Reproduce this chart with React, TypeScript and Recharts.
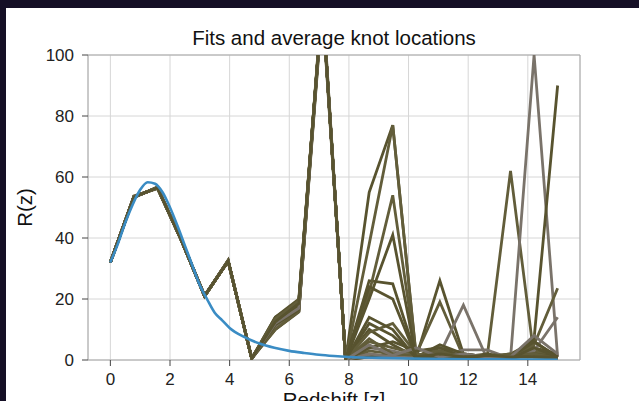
import { LineChart, Line, XAxis, YAxis, CartesianGrid, ReferenceArea } from "recharts";

// knot positions (redshift) shared by all the fitted lines
const knotZ = [0, 0.79, 1.58, 2.37, 3.16, 3.95, 4.74, 5.53, 6.32, 7.11, 7.89, 8.68, 9.47, 10.26, 11.05, 11.84, 12.63, 13.42, 14.21, 15];

// fitted R(z) at each knot, one array per fit
const fit01 = [32, 53.5, 56.5, 39.5, 21, 32.5, 0.5, 14, 20, 118, 0, 55, 77, 1, 2, 1, 0.5, 1, 3, 1];
const fit02 = [32, 53.2, 56.8, 39.5, 21.2, 32.2, 0.8, 12, 17, 120, 0, 38, 77, 0.5, 1, 0.5, 1, 0.5, 2, 1];
const fit03 = [32, 53.5, 56.5, 39.8, 21, 32.5, 0.5, 10, 15.7, 116, 0, 26, 25, 1, 3, 1, 1, 1, 4, 2];
const fit04 = [32, 53.8, 56.2, 39.5, 21, 32.8, 0.5, 13, 18, 119, 0, 22, 54, 1, 4, 2, 1, 1, 4, 1];
const fit05 = [32, 53.5, 56.5, 39.5, 20.8, 32.5, 0.3, 11, 16, 117, 0, 20, 41, 0.5, 2, 1, 0.5, 1, 2, 1];
const fit06 = [32, 53.4, 56.6, 39.6, 21, 32.4, 0.5, 12.5, 19, 118, 0, 10, 5, 1, 26, 2, 1, 2, 6, 1];
const fit07 = [32, 53.6, 56.4, 39.4, 21.1, 32.6, 0.6, 11, 17.5, 118, 0, 6, 4, 2, 19, 1, 1, 0.5, 3, 0.5];
const fit08 = [32, 53.5, 56.5, 39.5, 21, 32.5, 0.5, 13, 18, 118, 0, 4, 3, 1, 2, 18, 0.5, 1, 1, 1];
const fit09 = [32, 53.5, 56.5, 39.5, 21, 32.5, 0.5, 12, 17, 118, 0, 2, 1, 0.5, 1, 1, 0.5, 62, 1, 0.5];
const fit10 = [32, 53.5, 56.5, 39.5, 21, 32.5, 0.5, 12, 17, 118, 0, 1, 1, 1, 1, 3.3, 3.3, 0.5, 100, 1];
const fit11 = [32, 53.5, 56.5, 39.5, 21, 32.5, 0.5, 13, 19, 118, 0, 1, 2, 1, 2, 1, 1, 1, 7, 90];
const fit12 = [32, 53.5, 56.5, 39.5, 21, 32.5, 0.5, 12, 18, 118, 0, 3, 2, 1, 3, 1, 1, 1, 5, 23.5];
const fit13 = [32, 53.5, 56.5, 39.5, 21, 32.5, 0.5, 11, 16, 118, 0, 2, 1, 1, 1, 1, 1, 1, 3, 14];
const fit14 = [32, 53.5, 56.5, 39.5, 21, 32.5, 0.5, 14, 19, 118, 0, 12, 8, 1, 5, 2, 1, 1, 2, 1];
const fit15 = [32, 53.5, 56.5, 39.5, 21, 32.5, 0.5, 10, 16, 118, 0, 9, 12, 2, 1, 1, 1, 1, 1, 1];
const fit16 = [32, 53.5, 56.5, 39.5, 21, 32.5, 0.5, 12, 18, 118, 0, 4, 6, 3, 4, 1, 2, 1, 6, 1];
const fit17 = [32, 53.5, 56.5, 39.5, 21, 32.5, 0.5, 13.5, 19.5, 118, 0, 7, 2, 1.5, 3, 0.5, 1, 2, 2, 0.5];
const fit18 = [32, 53.5, 56.5, 39.5, 21, 32.5, 0.5, 11.5, 16.5, 118, 0, 14, 10, 0.5, 1.5, 1, 0.5, 0.5, 4, 1];
const fit19 = [32, 53.5, 56.5, 39.5, 21, 32.5, 0.5, 12, 17, 118, 0, 5, 1.5, 4, 1, 2, 1, 1, 8, 2];
const fit20 = [32, 53.5, 56.5, 39.5, 21, 32.5, 0.5, 12.5, 18.5, 118, 0, 24, 20, 1, 2, 1, 1.5, 1, 1, 1];

const fits = [fit01, fit02, fit03, fit04, fit05, fit06, fit07, fit08, fit09, fit10, fit11, fit12, fit13, fit14, fit15, fit16, fit17, fit18, fit19, fit20];

// smooth model curve
const modelZ = [0, 0.25, 0.5, 0.75, 1, 1.25, 1.5, 1.75, 2, 2.25, 2.5, 2.75, 3, 3.25, 3.5, 3.75, 4, 4.5, 5, 5.5, 6, 6.5, 7, 7.5, 8, 9, 10, 11, 12, 13, 14, 15];
const modelR = [32, 38, 45, 51, 55.8, 58.3, 57.8, 55, 50, 44, 37.5, 31, 24.5, 19.8, 15.5, 13, 10.5, 7.5, 5.4, 4, 3, 2.3, 1.7, 1.3, 1, 0.7, 0.5, 0.35, 0.25, 0.2, 0.15, 0.1];

const xTicks = [0, 2, 4, 6, 8, 10, 12, 14];
const yTicks = [0, 20, 40, 60, 80, 100];

const OLIVE = "#58532f";
const OLIVE2 = "#625d3a";
const GREYBROWN = "#7a736a";
const fitColors = [
    OLIVE, OLIVE2, OLIVE, OLIVE2, OLIVE, OLIVE, OLIVE2, GREYBROWN, OLIVE2, GREYBROWN,
    OLIVE, OLIVE2, GREYBROWN, OLIVE, OLIVE2, OLIVE, OLIVE2, OLIVE, GREYBROWN, OLIVE,
];

const FONT = '"Liberation Sans", Arial, Helvetica, sans-serif';

const rows = knotZ.map((z, i) => {
    const row: Record<string, number> = { z };
    fits.forEach((f, k) => {
        row[`f${k}`] = f[i];
    });
    return row;
});

const modelData = modelZ.map((z, i) => ({ z, r: modelR[i] }));

export default function App() {
    const tickStyle = { fontSize: 17, fill: "#222", fontFamily: FONT };

    return (
        <div style={{ position: "fixed", left: 0, top: 0, width: 639, height: 401, background: "#150f26", overflow: "hidden" }}>
            <div style={{ position: "absolute", left: 6, top: 8, right: 0, bottom: 0, background: "#fff" }} />
            <div style={{ position: "absolute", left: 0, top: 0 }}>
                <LineChart width={639} height={401} data={rows} margin={{ top: 55, right: 59, bottom: 11, left: 28 }}>
                    <CartesianGrid stroke="#d6d6d6" strokeWidth={1} />
                    <XAxis
                        dataKey="z"
                        type="number"
                        domain={[-0.75, 15.75]}
                        ticks={xTicks}
                        interval={0}
                        allowDataOverflow
                        axisLine={false}
                        tickSize={6}
                        tickMargin={7}
                        tickLine={{ stroke: "#444" }}
                        tick={tickStyle}
                        height={30}
                    />
                    <YAxis
                        type="number"
                        domain={[0, 100]}
                        ticks={yTicks}
                        interval={0}
                        allowDataOverflow
                        axisLine={false}
                        tickSize={6}
                        tickMargin={8}
                        tickLine={{ stroke: "#444" }}
                        tick={tickStyle}
                        width={60}
                    />
                    <ReferenceArea x1={-0.75} x2={15.75} y1={0} y2={100} fill="none" stroke="#a8a8a8" strokeWidth={1} />
                    {fits.map((_, k) => (
                        <Line
                            key={k}
                            dataKey={`f${k}`}
                            type="linear"
                            stroke={fitColors[k]}
                            strokeWidth={2.8}
                            dot={false}
                            activeDot={false}
                            isAnimationActive={false}
                        />
                    ))}
                    <Line
                        data={modelData}
                        dataKey="r"
                        type="monotone"
                        stroke="#3a8cc4"
                        strokeWidth={2.6}
                        dot={false}
                        activeDot={false}
                        isAnimationActive={false}
                    />
                </LineChart>
            </div>
            {/* title and axis labels (x label is cut by the bottom edge, as in the source) */}
            <svg width={639} height={401} style={{ position: "absolute", left: 0, top: 0, pointerEvents: "none" }}>
                <text x={334} y={45} textAnchor="middle" fontSize={20.5} fontFamily={FONT} fill="#111">
                    Fits and average knot locations
                </text>
                <text x={334} y={407} textAnchor="middle" fontSize={20.5} fontFamily={FONT} fill="#111">
                    Redshift [z]
                </text>
                <text x={31.5} y={207.5} textAnchor="middle" fontSize={20.5} fontFamily={FONT} fill="#111" transform="rotate(-90 31.5 207.5)">
                    R(z)
                </text>
            </svg>
        </div>
    );
}
